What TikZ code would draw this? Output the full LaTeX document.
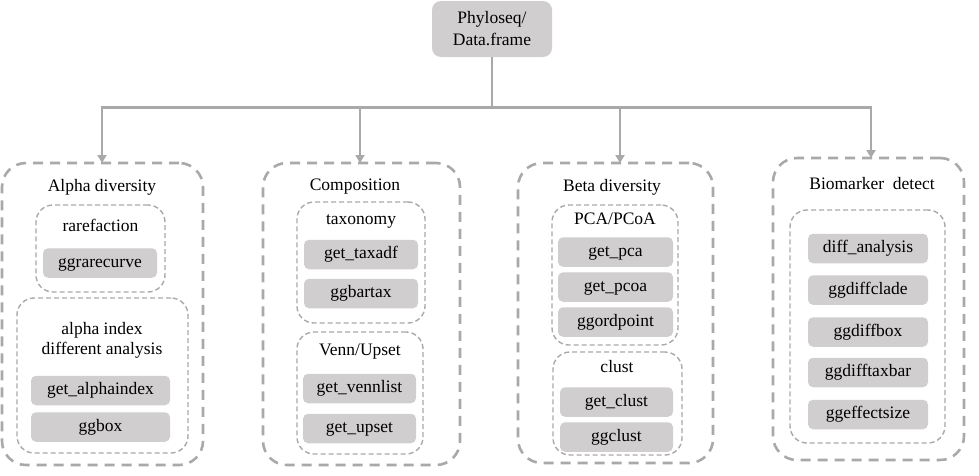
\documentclass[tikz,border=0pt]{standalone}
\usepackage{fontspec}
\setmainfont{Liberation Serif}
\usetikzlibrary{arrows.meta}
\definecolor{lnc}{HTML}{ABA8A8}
\definecolor{fillc}{HTML}{D0CECE}
\begin{document}
\begin{tikzpicture}[x=1pt,y=-1pt,
  every node/.style={font=\fontsize{17.5}{20}\selectfont, inner sep=0pt},
  outerbox/.style={draw=lnc, line width=2.6pt, dash pattern=on 10pt off 7pt, rounded corners=24pt},
  innerbox/.style={draw=lnc, line width=1.4pt, dash pattern=on 5pt off 3pt, rounded corners=17pt},
  fbox/.style={fill=fillc, rounded corners=5pt, minimum height=29.5pt, text height=12.5pt, text depth=4pt},
  ttl/.style={text height=12.5pt, text depth=4pt},
  ttltwo/.style={align=center},
  conn/.style={draw=lnc, line width=2.6pt},
  arr/.style={conn, -{Triangle[width=9pt,length=8pt]}}
]
\useasboundingbox (0,0) rectangle (979,475);

\node[fill=fillc, rounded corners=9pt, minimum width=120pt, minimum height=56pt, align=center, font=\fontsize{17.5}{22}\selectfont] (top) at (492,29) {Phyloseq/\\Data.frame};

% groups
\node[outerbox, minimum width=201pt, minimum height=302pt] (g1) at (102.5,314) {};
\node[outerbox, minimum width=197pt, minimum height=302pt] (g2) at (361.5,314) {};
\node[outerbox, minimum width=195pt, minimum height=300pt] (g3) at (615.5,313) {};
\node[outerbox, minimum width=191pt, minimum height=302pt] (g4) at (868.5,309) {};

\node[ttl] (t1) at (102,187) {Alpha diversity};
\node[ttl] (t2) at (355,186) {Composition};
\node[ttl] (t3) at (612,187) {Beta diversity};
\node[ttl] (t4) at (872,185) {Biomarker\ \ detect};

% connectors
\coordinate (bus) at (492,107.5);
\coordinate (a1) at (102,163);
\coordinate (a2) at (360,163);
\coordinate (a3) at (620,163);
\coordinate (a4) at (871,158);
\draw[conn] (top.south) -- (bus);
\draw[conn, line cap=rect] (a1 |- bus) -- (a4 |- bus);
\draw[arr] (a1 |- bus) -- (a1);
\draw[arr] (a2 |- bus) -- (a2);
\draw[arr] (a3 |- bus) -- (a3);
\draw[arr] (a4 |- bus) -- (a4);

% group 1
\node[innerbox, minimum width=129pt, minimum height=87pt] (s1a) at (100.5,248.5) {};
\node[ttl] (s1at) at (100.5,227) {rarefaction};
\node[fbox, minimum width=114pt] (b11) at (100,263) {ggrarecurve};
\node[innerbox, minimum width=171pt, minimum height=155pt] (s1b) at (102.5,375.5) {};
\node[ttltwo] (s1bt) at (102,340) {alpha index\\different analysis};
\node[fbox, minimum width=139pt] (b12) at (100.5,390.5) {get\_alphaindex};
\node[fbox, minimum width=139pt] (b13) at (100.5,427) {ggbox};

% group 2
\node[innerbox, minimum width=128pt, minimum height=121pt] (s2a) at (361,262.5) {};
\node[ttl] (s2at) at (361,220) {taxonomy};
\node[fbox, minimum width=114pt] (b21) at (361,254.5) {get\_taxadf};
\node[fbox, minimum width=114pt] (b22) at (361,293.5) {ggbartax};
\node[innerbox, minimum width=126pt, minimum height=122pt] (s2b) at (360,393) {};
\node[ttl] (s2bt) at (360,351) {Venn/Upset};
\node[fbox, minimum width=113pt] (b23) at (359.5,388.5) {get\_vennlist};
\node[fbox, minimum width=113pt] (b24) at (359.5,428.5) {get\_upset};

% group 3
\node[innerbox, minimum width=126pt, minimum height=140pt] (s3a) at (615,275) {};
\node[ttl] (s3at) at (615,220) {PCA/PCoA};
\node[fbox, minimum width=115pt] (b31) at (615.5,252) {get\_pca};
\node[fbox, minimum width=115pt] (b32) at (615.5,287) {get\_pcoa};
\node[fbox, minimum width=115pt] (b33) at (615.5,322) {ggordpoint};
\node[innerbox, minimum width=129pt, minimum height=103pt] (s3b) at (617.5,403.5) {};
\node[ttl] (s3bt) at (617,368) {clust};
\node[fbox, minimum width=113pt] (b34) at (616.5,402) {get\_clust};
\node[fbox, minimum width=113pt] (b35) at (616.5,437) {ggclust};

% group 4
\node[innerbox, minimum width=155pt, minimum height=233pt] (s4) at (867.5,326.5) {};
\node[fbox, minimum width=120pt] (b41) at (868,248.5) {diff\_analysis};
\node[fbox, minimum width=120pt] (b42) at (868,290) {ggdiffclade};
\node[fbox, minimum width=120pt] (b43) at (868,332) {ggdiffbox};
\node[fbox, minimum width=120pt] (b44) at (868,372.5) {ggdifftaxbar};
\node[fbox, minimum width=120pt] (b45) at (868,414.5) {ggeffectsize};
\end{tikzpicture}
\end{document}
